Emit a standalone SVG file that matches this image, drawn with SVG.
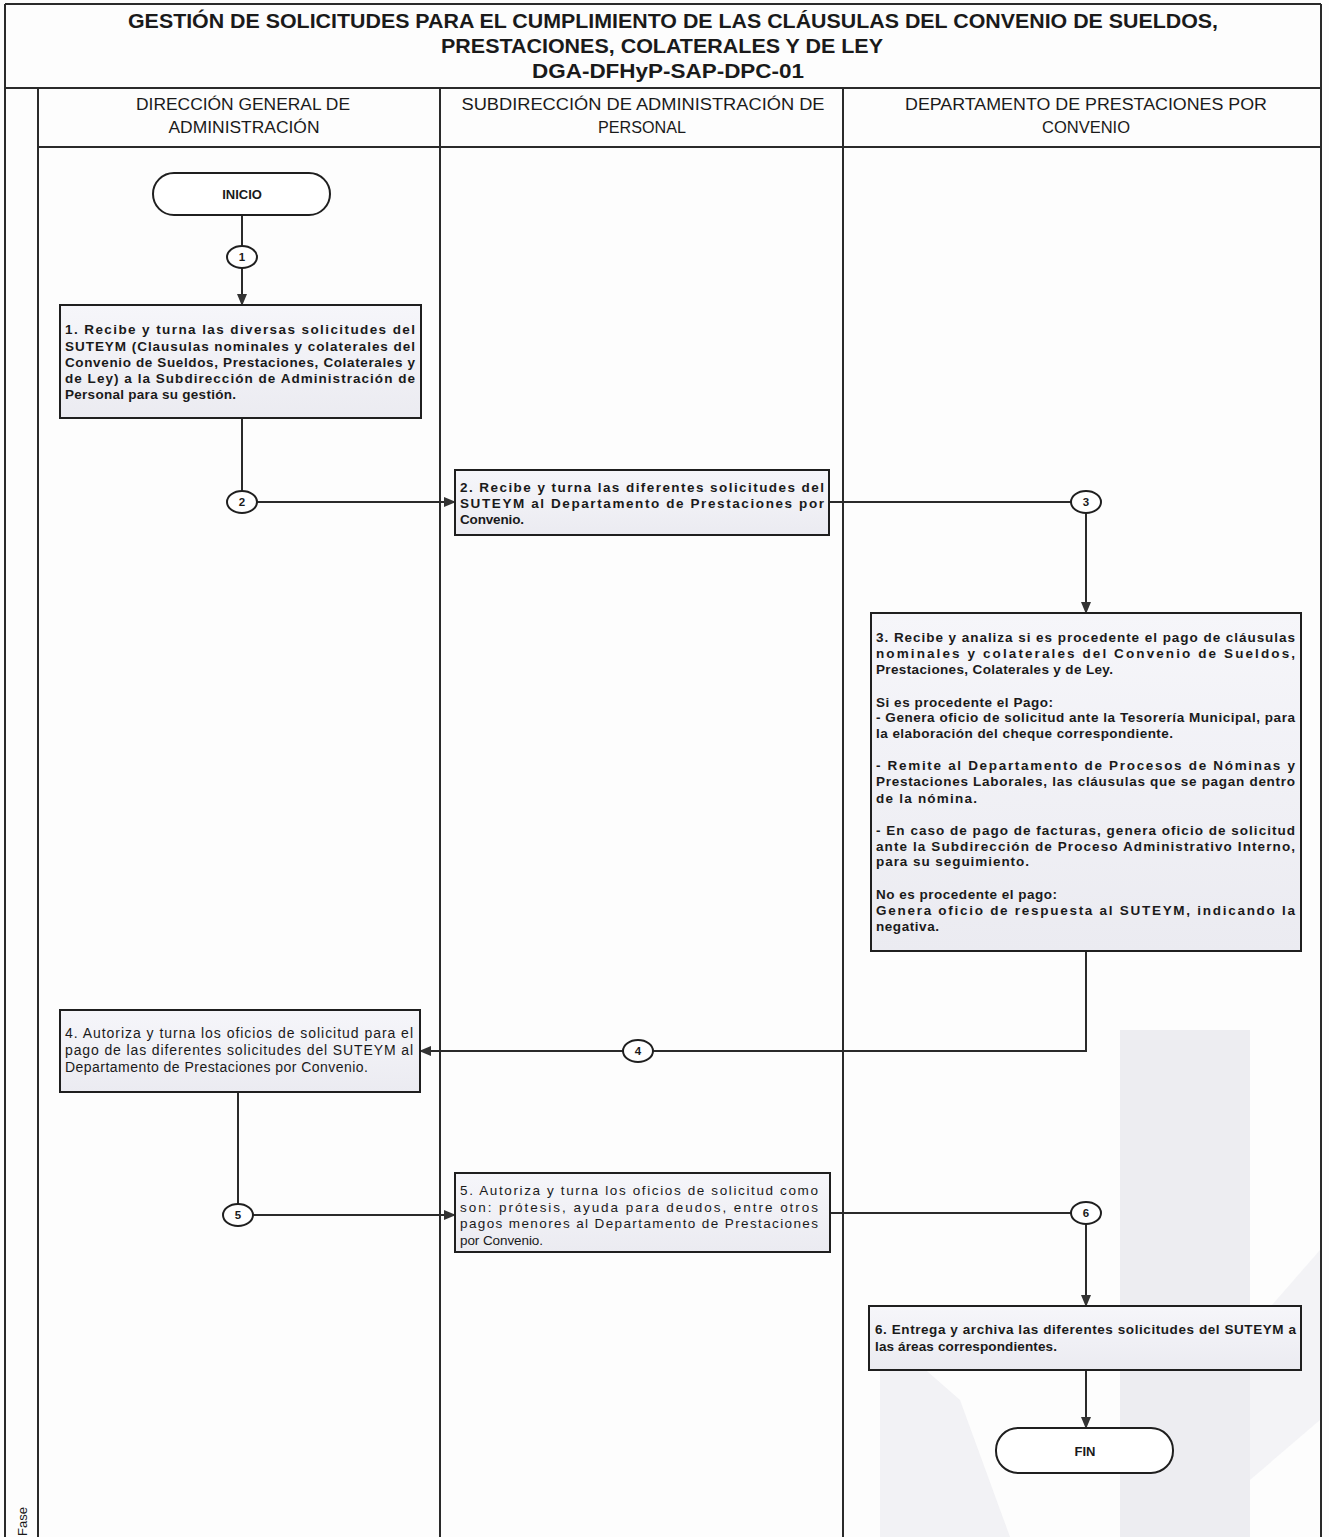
<svg xmlns="http://www.w3.org/2000/svg" width="1329" height="1537" viewBox="0 0 1329 1537">
<style>
text{font-family:"Liberation Sans",Arial,sans-serif;fill:#1a1a1a}
.title{font-size:20px;font-weight:bold;text-anchor:middle}
.hdr{font-size:16px;text-anchor:middle}
.b{font-size:13.5px;font-weight:bold}
.r4{font-size:14px}
.r5{font-size:13.5px}
.num{font-size:11.5px;font-weight:bold;text-anchor:middle}
.term{font-size:13px;font-weight:bold;text-anchor:middle}
.frame{fill:none;stroke:#2a2a2a;stroke-width:2}
.box{fill:url(#bg);stroke:#1f1f1f;stroke-width:2}
.tm{fill:#ffffff;stroke:#1f1f1f;stroke-width:2}
.cir{fill:#ffffff;stroke:#1f1f1f;stroke-width:2}
.ln{fill:none;stroke:#2a2a2a;stroke-width:2}
.ar{fill:none;stroke:#2a2a2a;stroke-width:2;marker-end:url(#ah)}
.wm{fill:#ededf1}
</style>
<defs>
<linearGradient id="bg" x1="0" y1="0" x2="0" y2="1">
<stop offset="0" stop-color="#f6f6fa"/>
<stop offset="1" stop-color="#ebebf1"/>
</linearGradient>
<marker id="ah" markerUnits="userSpaceOnUse" markerWidth="12" markerHeight="10" refX="11" refY="5" orient="auto">
<path d="M0,0 L12,5 L0,10 z" fill="#333"/>
</marker>
</defs>
<rect width="1329" height="1537" fill="#fdfdfd"/>
<g id="watermark">
<polygon class="wm" points="1120,1030 1250,1030 1250,1537 1120,1537"/>
<polygon class="wm" points="880,1330 960,1400 1010,1537 880,1537" opacity="0.7"/>
<polygon class="wm" points="1250,1330 1320,1250 1320,1420 1250,1480" opacity="0.6"/>
</g>
<g id="frame">
<line class="frame" x1="5" y1="4" x2="1321" y2="4"/>
<line class="frame" x1="5" y1="4" x2="5" y2="1537"/>
<line class="frame" x1="1321" y1="4" x2="1321" y2="1537"/>
<line class="frame" x1="5" y1="88" x2="1321" y2="88"/>
<line class="frame" x1="38" y1="147" x2="1321" y2="147" stroke-width="2.5"/>
<line class="frame" x1="38" y1="88" x2="38" y2="1537"/>
<line class="frame" x1="440" y1="88" x2="440" y2="1537"/>
<line class="frame" x1="843" y1="88" x2="843" y2="1537"/>
</g>
<g id="title">
<text class="title" x="673" y="28" textLength="1090" lengthAdjust="spacingAndGlyphs">GESTIÓN DE SOLICITUDES PARA EL CUMPLIMIENTO DE LAS CLÁUSULAS DEL CONVENIO DE SUELDOS,</text>
<text class="title" x="662" y="53" textLength="442" lengthAdjust="spacingAndGlyphs">PRESTACIONES, COLATERALES Y DE LEY</text>
<text class="title" x="668" y="78" textLength="272" lengthAdjust="spacingAndGlyphs">DGA-DFHyP-SAP-DPC-01</text>
</g>
<g id="lane-headers">
<text class="hdr" x="243" y="110" textLength="214" lengthAdjust="spacingAndGlyphs">DIRECCIÓN GENERAL DE</text>
<text class="hdr" x="244" y="133" textLength="151" lengthAdjust="spacingAndGlyphs">ADMINISTRACIÓN</text>
<text class="hdr" x="643" y="110" textLength="363" lengthAdjust="spacingAndGlyphs">SUBDIRECCIÓN DE ADMINISTRACIÓN DE</text>
<text class="hdr" x="642" y="133" textLength="88" lengthAdjust="spacingAndGlyphs">PERSONAL</text>
<text class="hdr" x="1086" y="110" textLength="362" lengthAdjust="spacingAndGlyphs">DEPARTAMENTO DE PRESTACIONES POR</text>
<text class="hdr" x="1086" y="133" textLength="88" lengthAdjust="spacingAndGlyphs">CONVENIO</text>
<text x="27" y="1536" font-size="13" transform="rotate(-90 27 1536)">Fase</text>
</g>
<g id="connectors">
<line class="ln" x1="242" y1="215" x2="242" y2="246"/>
<line class="ar" x1="242" y1="268" x2="242" y2="305"/>
<line class="ln" x1="242" y1="418" x2="242" y2="491"/>
<line class="ar" x1="257" y1="502" x2="455" y2="502"/>
<line class="ln" x1="829" y1="502" x2="1071" y2="502"/>
<line class="ar" x1="1086" y1="513" x2="1086" y2="613"/>
<polyline class="ln" points="1086,951 1086,1051 653,1051"/>
<line class="ar" x1="623" y1="1051" x2="420" y2="1051"/>
<line class="ln" x1="238" y1="1092" x2="238" y2="1204"/>
<line class="ar" x1="253" y1="1215" x2="455" y2="1215"/>
<line class="ln" x1="830" y1="1213" x2="1071" y2="1213"/>
<line class="ar" x1="1086" y1="1224" x2="1086" y2="1306"/>
<line class="ar" x1="1086" y1="1370" x2="1086" y2="1428"/>
</g>
<g id="inicio">
<rect class="tm" x="153" y="173" width="177" height="42" rx="21"/>
<text class="term" x="242" y="199">INICIO</text>
</g>
<g id="c1"><ellipse class="cir" cx="242" cy="257" rx="15" ry="11"/><text class="num" x="242" y="261">1</text></g>
<g id="box1">
<rect class="box" x="60" y="305" width="361" height="113"/>
<text class="b" x="65" y="334" textLength="350" lengthAdjust="spacing">1. Recibe y turna las diversas solicitudes del</text>
<text class="b" x="65" y="351" textLength="350" lengthAdjust="spacing">SUTEYM (Clausulas nominales y colaterales del</text>
<text class="b" x="65" y="367" textLength="350" lengthAdjust="spacing">Convenio de Sueldos, Prestaciones, Colaterales y</text>
<text class="b" x="65" y="383" textLength="350" lengthAdjust="spacing">de Ley) a la Subdirección de Administración de</text>
<text class="b" x="65" y="399" textLength="171" lengthAdjust="spacing">Personal para su gestión.</text>
</g>
<g id="c2"><ellipse class="cir" cx="242" cy="502" rx="15" ry="11"/><text class="num" x="242" y="506">2</text></g>
<g id="box2">
<rect class="box" x="455" y="470" width="374" height="65"/>
<text class="b" x="460" y="492" textLength="364" lengthAdjust="spacing">2. Recibe y turna las diferentes solicitudes del</text>
<text class="b" x="460" y="508" textLength="364" lengthAdjust="spacing">SUTEYM al Departamento de Prestaciones por</text>
<text class="b" x="460" y="524" textLength="64" lengthAdjust="spacing">Convenio.</text>
</g>
<g id="c3"><ellipse class="cir" cx="1086" cy="502" rx="15" ry="11"/><text class="num" x="1086" y="506">3</text></g>
<g id="box3">
<rect class="box" x="871" y="613" width="430" height="338"/>
<text class="b" x="876" y="642" textLength="419" lengthAdjust="spacing">3. Recibe y analiza si es procedente el pago de cláusulas</text>
<text class="b" x="876" y="658" textLength="419" lengthAdjust="spacing">nominales y colaterales del Convenio de Sueldos,</text>
<text class="b" x="876" y="674" textLength="237" lengthAdjust="spacing">Prestaciones, Colaterales y de Ley.</text>
<text class="b" x="876" y="707" textLength="177" lengthAdjust="spacing">Si es procedente el Pago:</text>
<text class="b" x="876" y="722" textLength="419" lengthAdjust="spacing">- Genera oficio de solicitud ante la Tesorería Municipal, para</text>
<text class="b" x="876" y="738" textLength="297" lengthAdjust="spacing">la elaboración del cheque correspondiente.</text>
<text class="b" x="876" y="770" textLength="419" lengthAdjust="spacing">- Remite al Departamento de Procesos de Nóminas y</text>
<text class="b" x="876" y="786" textLength="419" lengthAdjust="spacing">Prestaciones Laborales, las cláusulas que se pagan dentro</text>
<text class="b" x="876" y="803" textLength="101" lengthAdjust="spacing">de la nómina.</text>
<text class="b" x="876" y="835" textLength="419" lengthAdjust="spacing">- En caso de pago de facturas, genera oficio de solicitud</text>
<text class="b" x="876" y="851" textLength="419" lengthAdjust="spacing">ante la Subdirección de Proceso Administrativo Interno,</text>
<text class="b" x="876" y="866" textLength="153" lengthAdjust="spacing">para su seguimiento.</text>
<text class="b" x="876" y="899" textLength="181" lengthAdjust="spacing">No es procedente el pago:</text>
<text class="b" x="876" y="915" textLength="419" lengthAdjust="spacing">Genera oficio de respuesta al SUTEYM, indicando la</text>
<text class="b" x="876" y="931" textLength="63" lengthAdjust="spacing">negativa.</text>
</g>
<g id="c4"><ellipse class="cir" cx="638" cy="1051" rx="15" ry="11"/><text class="num" x="638" y="1055">4</text></g>
<g id="box4">
<rect class="box" x="60" y="1010" width="360" height="82"/>
<text class="r4" x="65" y="1038" textLength="348" lengthAdjust="spacing">4. Autoriza y turna los oficios de solicitud para el</text>
<text class="r4" x="65" y="1055" textLength="348" lengthAdjust="spacing">pago de las diferentes solicitudes del SUTEYM al</text>
<text class="r4" x="65" y="1072" textLength="303" lengthAdjust="spacing">Departamento de Prestaciones por Convenio.</text>
</g>
<g id="c5"><ellipse class="cir" cx="238" cy="1215" rx="15" ry="11"/><text class="num" x="238" y="1219">5</text></g>
<g id="box5">
<rect class="box" x="455" y="1173" width="375" height="79"/>
<text class="r5" x="460" y="1195" textLength="358" lengthAdjust="spacing">5. Autoriza y turna los oficios de solicitud como</text>
<text class="r5" x="460" y="1212" textLength="358" lengthAdjust="spacing">son: prótesis, ayuda para deudos, entre otros</text>
<text class="r5" x="460" y="1228" textLength="358" lengthAdjust="spacing">pagos menores al Departamento de Prestaciones</text>
<text class="r5" x="460" y="1245" textLength="83" lengthAdjust="spacing">por Convenio.</text>
</g>
<g id="c6"><ellipse class="cir" cx="1086" cy="1213" rx="15" ry="11"/><text class="num" x="1086" y="1217">6</text></g>
<g id="box6">
<rect class="box" x="869" y="1306" width="432" height="64"/>
<text class="b" x="875" y="1334" textLength="421" lengthAdjust="spacing">6. Entrega y archiva las diferentes solicitudes del SUTEYM a</text>
<text class="b" x="875" y="1351" textLength="182" lengthAdjust="spacing">las áreas correspondientes.</text>
</g>
<g id="fin">
<rect class="tm" x="996" y="1428" width="177" height="45" rx="22"/>
<text class="term" x="1085" y="1456">FIN</text>
</g>
</svg>
